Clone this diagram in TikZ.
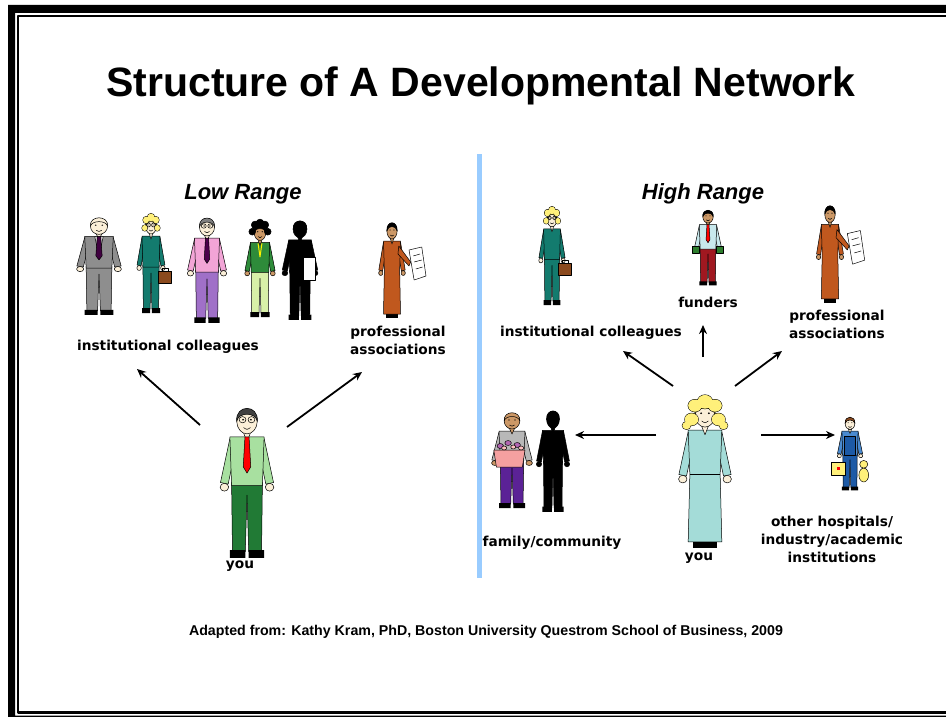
\documentclass[tikz,border=0pt]{standalone}
\usepackage{fontspec}
\setmainfont{Liberation Sans}
\newfontfamily\lblfont{DejaVu Sans}
\usetikzlibrary{arrows.meta}

\definecolor{paleskin}{HTML}{FBEFD8}
\definecolor{tanskin}{HTML}{CC9866}
\definecolor{blond}{HTML}{FFF07A}
\definecolor{suitgrey}{HTML}{8E8E8E}
\definecolor{suitteal}{HTML}{137B6E}
\definecolor{leather}{HTML}{8B4A1E}
\definecolor{shirtpink}{HTML}{F2A4D6}
\definecolor{pantsviolet}{HTML}{A070C8}
\definecolor{jacketgreen}{HTML}{2E8B3A}
\definecolor{pantslime}{HTML}{D8F0A8}
\definecolor{dressrust}{HTML}{C0581E}
\definecolor{shirtmint}{HTML}{A8E0A0}
\definecolor{pantsgreen}{HTML}{217A35}
\definecolor{shirtsky}{HTML}{C8E8EC}
\definecolor{pantsred}{HTML}{A01820}
\definecolor{money}{HTML}{2E7D2E}
\definecolor{shirtgrey}{HTML}{B8B8B8}
\definecolor{pantspurple}{HTML}{5B2296}
\definecolor{potpink}{HTML}{F5A0A0}
\definecolor{dressaqua}{HTML}{A4DCD8}
\definecolor{overall}{HTML}{1D5AA6}
\definecolor{shirtblue}{HTML}{4A8AD0}
\definecolor{divider}{HTML}{99CCFF}

\tikzset{
	fig/.style={line width=.5pt,line join=round},
	lbl/.style={font=\lblfont\bfseries\fontsize{13.7}{18}\selectfont,inner sep=0pt,align=center},
	rangetitle/.style={font=\bfseries\itshape\fontsize{22}{24}\selectfont,inner sep=0pt,anchor=base},
	arr/.style={->,line width=1.8pt},
}

% face and hair, local units: head top 0, feet 98
\newcommand\facepart[2]{%
	\filldraw[fill=#1] (-2.5,17) -- (2.5,17) -- (0,24) -- cycle;
	\filldraw[fill=#1] (0,11) ellipse (6 and 8);
	\filldraw[fill=#2] (-6,11) .. controls (-7,0) and (7,0) .. (6,11) .. controls (5,5) and (-5,5) .. (-6,11) -- cycle;
	\fill (-2.3,10) circle (.6) (2.3,10) circle (.6);
	\draw (-2,15) .. controls (0,16.5) .. (2,15);}
% x, y (top), options, skin, hair, shirt, trousers, extras
\newcommand\man[8]{%
	\begin{scope}[shift={(#1,#2)},#3,fig]
		\filldraw[fill=#7] (-9,50) -- (-8.5,94) -- (-1,94) -- (0,58) -- (1,94) -- (8.5,94) -- (9,50) -- cycle;
		\fill (-10,93) rectangle (-1,98) (1,93) rectangle (10,98);
		\filldraw[fill=#6] (-10,22) -- (-15.5,50) -- (-11,51) -- (-7,30) -- cycle (10,22) -- (15.5,50) -- (11,51) -- (7,30) -- cycle;
		\filldraw[fill=#4] (-13.2,53) circle (2.5) (13.2,53) circle (2.5);
		\filldraw[fill=#6] (-10,21) -- (10,21) -- (9,52) -- (-9,52) -- cycle;
		\facepart{#4}{#5}
		#8
	\end{scope}}
% x, y (top), options, skin, hair, dress, extras
\newcommand\lady[7]{%
	\begin{scope}[shift={(#1,#2)},#3,fig]
		\fill (-7,93) rectangle (7,98);
		\filldraw[fill=#6] (-10,22) -- (-15.5,50) -- (-11,51) -- (-7,30) -- cycle (10,22) -- (15.5,50) -- (11,51) -- (7,30) -- cycle;
		\filldraw[fill=#4] (-13.2,53) circle (2.5) (13.2,53) circle (2.5);
		\filldraw[fill=#6] (-10,21) -- (10,21) -- (9,50) -- (10,94) -- (-10,94) -- (-9,50) -- cycle;
		\facepart{#4}{#5}
		#7
	\end{scope}}
\newcommand\necktie[1]{\filldraw[fill=#1] (-1.2,21) -- (1.2,21) -- (2.2,40) -- (0,44) -- (-2.2,40) -- cycle;}
\newcommand\specs{\draw (-2.6,10) circle (2) (2.6,10) circle (2);}
\newcommand\briefcase{\filldraw[fill=leather] (8,56) rectangle (23,68); \draw (12,56) -- (12,53) -- (19,53) -- (19,56);}
% hair as one blob: outline first, fill over it
\newcommand\hairpuff[1]{%
	\draw[line width=1pt] (-7,13) circle (3) (7,13) circle (3) (-5.5,5) circle (3.4) (5.5,5) circle (3.4) (0,2.5) circle (4);
	\fill[#1] (-7,13) circle (3) (7,13) circle (3) (-5.5,5) circle (3.4) (5.5,5) circle (3.4) (0,2.5) circle (4);}
\newcommand\papersheet[1]{%
	\filldraw[fill=#1] (8,26) -- (22,42) -- (20,46) -- (7,34) -- cycle;
	\filldraw[fill=white] (20,30) -- (35,27) -- (40,56) -- (26,60) -- cycle;
	\draw (25,36) -- (33,34) (26,42) -- (35,40) (28,49) -- (36,47);}

\begin{document}
\begin{tikzpicture}[x=1pt,y=-1pt,>={Stealth[length=9pt,width=8pt]},line join=round]
	\clip (0,0) rectangle (946,717);
	\fill[white] (0,0) rectangle (946,717);
	% frame
	\fill (8,5) rectangle (950,13) (8,5) rectangle (15,720) (8,715.5) rectangle (950,720);
	\draw[line width=2.2pt] (950,16) -- (18,16) -- (18,712.5) -- (950,712.5);
	\fill[divider] (477,154) rectangle (482,578);

	\node[font=\bfseries\fontsize{41}{45}\selectfont,inner sep=0pt,anchor=base] (title) at (481,97) {Structure of A Developmental Network};
	\node[rangetitle] (low) at (243,199) {Low Range};
	\node[rangetitle] (high) at (703,199) {High Range};

	% low range
	\man{99}{215}{scale=1.02,xscale=1.4}{paleskin}{paleskin}{suitgrey}{suitgrey}{\filldraw[fill=white!85!black] (-3,21) -- (3,21) -- (0,40) -- cycle; \necktie{violet!50!black}}
	\man{151}{215}{scale=1,xscale=.9}{paleskin}{blond}{suitteal}{suitteal}{\hairpuff{blond}\specs\briefcase}
	\man{207}{215}{scale=1.1,xscale=1.14}{paleskin}{gray}{shirtpink}{pantsviolet}{\specs\necktie{violet!60!black}}
	\man{260}{222}{scale=.97}{tanskin}{black}{jacketgreen}{pantslime}{\filldraw[fill=black] (-8,10) circle (3.5) (8,10) circle (3.5) (-5,3) circle (4) (5,3) circle (4) (0,1) circle (4); \draw[yellow,line width=1pt] (-2,22) -- (0,36) -- (2,22);}
	\man{300}{218}{scale=1.04,xscale=1.1}{black}{black}{black}{black}{\filldraw[fill=white] (3,38) rectangle (13,60);}
	\lady{392}{220}{scale=1,xscale=.85}{tanskin}{black}{dressrust}{\papersheet{dressrust}}
	\man{247}{404}{scale=1.57,xscale=1.09}{paleskin}{darkgray}{shirtmint}{pantsgreen}{\specs\necktie{red}}

	\node[lbl] (lcoll) at (168,347) {institutional colleagues};
	\node[lbl] (lprof) at (398,340) {professional\\associations};
	\node[lbl] (lyou) at (240,566) {you};
	\coordinate (lfromw) at (200,425);
	\coordinate (lfrome) at (287,427);
	\coordinate (ltocoll) at (137,369);
	\coordinate (ltoprof) at (362,372);
	\draw[arr] (lfromw) -- (ltocoll);
	\draw[arr] (lfrome) -- (ltoprof);

	% high range
	\man{552}{208}{scale=.99,xscale=.85}{paleskin}{blond}{suitteal}{suitteal}{\hairpuff{blond}\specs\briefcase}
	\man{708}{208}{scale=.79,xscale=1.1}{tanskin}{black}{shirtsky}{pantsred}{\necktie{red}\filldraw[fill=money] (-18,49) rectangle (-10,57) (10,49) rectangle (18,57);}
	\lady{830}{203}{scale=1.02,xscale=.85}{tanskin}{black}{dressrust}{\papersheet{dressrust}}
	\man{512}{410}{scale=1,xscale=1.3}{tanskin}{tanskin}{shirtgrey}{pantspurple}{\filldraw[fill=potpink] (-14,40) -- (10,40) -- (8,57) -- (-12,57) -- cycle; \filldraw[fill=violet!60] (-9,36) circle (2.5) (-3,33) circle (2.5) (4,35) circle (2.5); \filldraw[fill=pink] (-6,38) circle (2) (1,37) circle (2) (7,38) circle (2);}
	\man{553}{408}{scale=1.06}{black}{black}{black}{black}{}
	\lady{705}{398}{scale=1.53,xscale=1.1}{paleskin}{blond}{dressaqua}{\draw[line width=1pt] (-8,14) circle (4) (8,14) circle (4) (-6,5) circle (4) (6,5) circle (4) (0,2.5) circle (4.5) (-11,18) circle (2.5) (11,18) circle (2.5); \fill[blond] (-8,14) circle (4) (8,14) circle (4) (-6,5) circle (4) (6,5) circle (4) (0,2.5) circle (4.5) (-11,18) circle (2.5) (11,18) circle (2.5); \draw (-9,50) -- (9,50);}
	\man{850}{415}{scale=.77,xscale=1.05}{paleskin}{leather}{shirtblue}{overall}{\filldraw[fill=overall] (-7,28) rectangle (7,52); \filldraw[fill=blond] (-23,61) rectangle (-6,78); \fill[red] (-16,67) rectangle (-12,71); \filldraw[fill=blond] (17,64) circle (5) (17,78) ellipse (6 and 9);}

	\node[lbl] (rcoll) at (591,333) {institutional colleagues};
	\node[lbl] (rfund) at (708,302) {funders};
	\node[lbl] (rprof) at (837,324) {professional\\associations};
	\node[lbl] (rfam) at (552,543) {family/community};
	\node[lbl] (ryou) at (699,558) {you};
	\node[lbl] (rother) at (832,539) {other hospitals/\\industry/academic\\institutions};
	\coordinate (rfromnw) at (673,386);
	\coordinate (rfromn) at (703,357);
	\coordinate (rfromne) at (735,386);
	\coordinate (rfromw) at (656,435);
	\coordinate (rfrome) at (761,435);
	\coordinate (rtocoll) at (623,351);
	\coordinate (rtofund) at (703,325);
	\coordinate (rtoprof) at (782,351);
	\coordinate (rtofam) at (575,435);
	\coordinate (rtoother) at (835,435);
	\draw[arr] (rfromnw) -- (rtocoll);
	\draw[arr] (rfromn) -- (rtofund);
	\draw[arr] (rfromne) -- (rtoprof);
	\draw[arr] (rfromw) -- (rtofam);
	\draw[arr] (rfrome) -- (rtoother);

	\node[font=\bfseries\fontsize{14.2}{16}\selectfont,inner sep=0pt] (credit) at (486,632) {Adapted from: Kathy Kram, PhD, Boston University Questrom School of Business, 2009};
\end{tikzpicture}
\end{document}
